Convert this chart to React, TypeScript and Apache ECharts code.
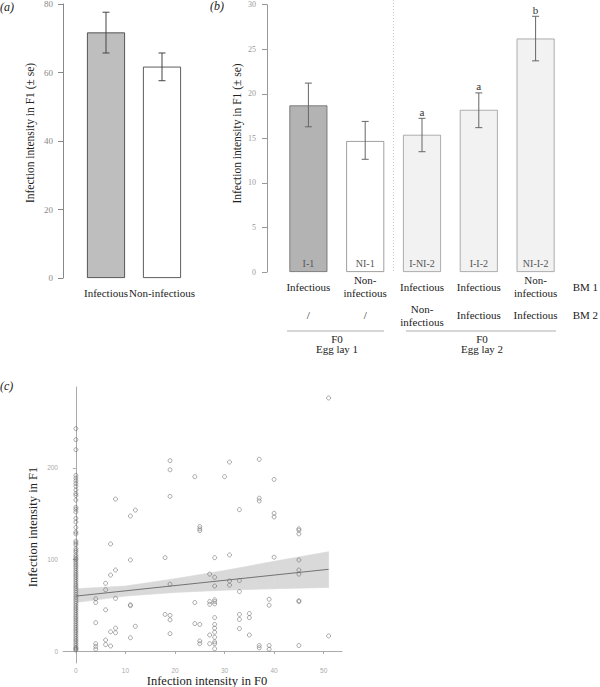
import React, { useEffect, useRef } from "react";
import * as echarts from "echarts";

// ---------- Panel (a) ----------
const catsA = ["Infectious", "Non-infectious"];
const meanA = [71.7, 61.7];
const seLowA = [65.7, 57.6];
const seHighA = [77.6, 65.7];

// ---------- Panel (b) ----------
const codesB = ["I-1", "NI-1", "I-NI-2", "I-I-2", "NI-I-2"];
const bm1B = ["Infectious", "Non-\ninfectious", "Infectious", "Infectious", "Non-\ninfectious"];
const bm2B = ["/", "/", "Non-\ninfectious", "Infectious", "Infectious"];
const meanB = [18.7, 14.7, 15.4, 18.2, 26.2];
const seLowB = [16.3, 12.65, 13.5, 16.2, 23.7];
const seHighB = [21.2, 16.9, 17.25, 20.1, 28.7];
const lettersB = ["", "", "a", "a", "b"];

// ---------- Panel (c) ----------
const ticksX = [0, 10, 20, 30, 40, 50];
const ticksY = [0, 100, 200];

const zeroColumnF1 = [
  243, 231, 220, 192, 189, 186, 183, 180, 176, 172, 170, 165, 157, 155, 152, 145, 141, 135,
  130, 128, 120, 118, 116, 112, 110, 108, 105, 103, 101, 100, 98, 96, 94, 92, 90, 88, 86, 84,
  82, 80, 78, 76, 74, 72, 70, 68, 66, 64, 62, 60, 58, 56, 54, 52, 50, 48, 46, 44, 42, 40, 38,
  36, 34, 32, 30, 28, 26, 24, 22, 20, 18, 16, 14, 12, 10, 8, 6, 4, 3, 2, 1,
];

const otherF0 = [
  4, 4, 4, 4, 4, 4,
  6, 6, 6, 6, 6,
  7, 7, 7, 7,
  8, 8, 8, 8, 8,
  11, 11, 11, 11, 11,
  12, 12,
  18, 18,
  19, 19, 19, 19, 19, 19, 19,
  24, 24, 24,
  25, 25, 25, 25, 25, 25,
  27, 27, 27, 27, 27,
  28, 28, 28, 28, 28, 28, 28, 28, 28, 28, 28, 28, 28, 28,
  30,
  31, 31, 31, 31,
  33, 33, 33, 33, 33, 33,
  35, 35, 35,
  37, 37, 37, 37, 37,
  39, 39, 39, 39,
  40, 40, 40, 40,
  45, 45, 45, 45, 45, 45, 45, 45, 45,
  51, 51,
];
const otherF1 = [
  57, 53, 31, 8, 5, 2,
  74, 67, 45, 12, 7,
  117, 83, 21, 5.5,
  166, 88.5, 57.5, 25, 20,
  147.5, 99.5, 50.5, 49.5, 14.5,
  154, 27,
  102, 40,
  208, 198, 169, 73, 39, 34, 19,
  190.5, 53, 30,
  136, 133.5, 131.5, 29, 11, 8,
  84, 54, 51, 17.5, 8,
  102, 80.5, 71, 56, 54, 51.5, 36.5, 29, 25, 20.5, 15, 10, 8, 2.5,
  190.5,
  206.5, 105, 76.5, 72,
  154.5, 77, 65, 40, 34.5, 24.5,
  41, 36.5, 17.5,
  209.5, 167, 164, 6, 3.5,
  56.5, 50, 6, 2,
  187.5, 150.5, 146.5, 102.5,
  133.5, 132, 128, 99.5, 88.5, 84, 55, 54, 6,
  276.5, 16.5,
];

const fitX = [0, 51];
const fitY = [60, 89.3];
const bandX = [0, 10, 20, 30, 40, 51];
const bandLower = [53, 60, 64, 66.5, 68, 69.5];
const bandUpper = [68, 71, 79, 88, 98, 108.5];

const SERIF = "Liberation Serif";
const SANS = "Liberation Sans";

function errRender(color: string, capHalf: number, letters?: string[]) {
  return (params: any, api: any) => {
    const i = api.value(0);
    const lo = api.coord([i, api.value(1)]);
    const hi = api.coord([i, api.value(2)]);
    const style = { stroke: color, lineWidth: 1 };
    const children: any[] = [
      { type: "line", shape: { x1: lo[0], y1: lo[1], x2: hi[0], y2: hi[1] }, style },
      { type: "line", shape: { x1: hi[0] - capHalf, y1: hi[1], x2: hi[0] + capHalf, y2: hi[1] }, style },
      { type: "line", shape: { x1: lo[0] - capHalf, y1: lo[1], x2: lo[0] + capHalf, y2: lo[1] }, style },
    ];
    if (letters && letters[params.dataIndex]) {
      children.push({
        type: "text",
        style: {
          text: letters[params.dataIndex],
          x: hi[0],
          y: hi[1] - 1,
          align: "center",
          verticalAlign: "bottom",
          fill: "#333",
          fontSize: 11,
          fontFamily: SERIF,
        },
      });
    }
    return { type: "group", children };
  };
}

function bandRender(params: any, api: any) {
  const a0 = api.coord([api.value(0), api.value(1)]);
  const a1 = api.coord([api.value(3), api.value(4)]);
  const b1 = api.coord([api.value(3), api.value(5)]);
  const b0 = api.coord([api.value(0), api.value(2)]);
  return {
    type: "polygon",
    shape: { points: [a0, a1, b1, b0] },
    style: { fill: "#d9d9d9", stroke: "#d9d9d9", lineWidth: 0.6 },
  };
}

const txt = (text: string, x: number, y: number, size: number, extra: any = {}) => ({
  type: "text",
  x,
  y,
  ...(extra.rotation !== undefined ? { rotation: extra.rotation } : {}),
  style: {
    text,
    fontSize: size,
    fontFamily: SERIF,
    fontStyle: extra.italic ? "italic" : "normal",
    align: extra.align || "center",
    verticalAlign: "middle",
    fill: "#222",
  },
});

export default function App() {
  const ref = useRef<HTMLDivElement>(null);

  useEffect(() => {
    if (!ref.current) return;
    const chart = echarts.init(ref.current, undefined, { renderer: "svg" });

    const scatterData: number[][] = [];
    zeroColumnF1.forEach((y) => scatterData.push([0, y]));
    otherF0.forEach((x, i) => scatterData.push([x, otherF1[i]]));

    const bandData = bandX.slice(0, -1).map((x, i) => [
      x, bandLower[i], bandUpper[i], bandX[i + 1], bandLower[i + 1], bandUpper[i + 1],
    ]);

    const fillA = ["#bebebe", "#ffffff"];
    const fillB = ["#b3b3b3", "#ffffff", "#f2f2f2", "#f2f2f2", "#f2f2f2"];
    const borderB = ["#666", "#888", "#999", "#999", "#999"];

    const yAxisCommon = (color: string, fontSize: number, margin: number) => ({
      axisLine: { show: true, lineStyle: { color, width: 1 } },
      axisTick: { show: true, length: 5, lineStyle: { color } },
      axisLabel: { color, fontSize, fontFamily: SERIF, margin },
      splitLine: { show: false },
    });

    const catLabel = (margin: number) => ({
      color: "#222", fontSize: 11, fontFamily: SERIF, margin,
      verticalAlign: "middle", lineHeight: 13, interval: 0,
    });

    const option: any = {
      animation: false,
      backgroundColor: "#fff",
      textStyle: { fontFamily: SERIF },
      grid: [
        { left: 78, top: 4, width: 112, height: 274, outerBoundsMode: "none" },
        { left: 280, top: 4.7, width: 284, height: 267.3, outerBoundsMode: "none" },
        { left: 63, top: 387, width: 279, height: 276, outerBoundsMode: "none" },
      ],
      xAxis: [
        {
          gridIndex: 0,
          type: "category",
          data: catsA,
          axisLine: { show: false },
          axisTick: { show: false },
          axisLabel: catLabel(15),
        },
        {
          gridIndex: 1,
          type: "category",
          data: bm1B,
          axisLine: { show: false },
          axisTick: { show: false },
          axisLabel: catLabel(14.5),
        },
        {
          gridIndex: 1,
          type: "category",
          data: bm2B,
          position: "bottom",
          offset: 28.5,
          axisLine: { show: false },
          axisTick: { show: false },
          axisLabel: catLabel(14.5),
        },
        {
          gridIndex: 2,
          type: "value",
          min: -2.6,
          max: 53.7,
          axisLine: { show: true, lineStyle: { color: "#aaa", width: 1 } },
          axisTick: { show: true, length: 3, customValues: ticksX, lineStyle: { color: "#aaa" } },
          axisLabel: { customValues: ticksX, color: "#aaa", fontSize: 6.5, fontFamily: SANS, margin: 4 },
          splitLine: { show: false },
        },
      ],
      yAxis: [
        {
          gridIndex: 0, type: "value", min: 0, max: 80, interval: 20, offset: 15,
          ...yAxisCommon("#888", 9, 10),
        },
        {
          gridIndex: 1, type: "value", min: 0, max: 30, interval: 5, offset: 13,
          ...yAxisCommon("#999", 8, 11),
        },
        {
          gridIndex: 2,
          type: "value",
          min: -13.1,
          max: 288.5,
          axisLine: { show: true, lineStyle: { color: "#aaa", width: 1 } },
          axisTick: { show: true, length: 3, customValues: ticksY, lineStyle: { color: "#aaa" } },
          axisLabel: { customValues: ticksY, color: "#aaa", fontSize: 6.5, fontFamily: SANS, margin: 5 },
          splitLine: { show: false },
        },
      ],
      series: [
        {
          type: "bar",
          xAxisIndex: 0,
          yAxisIndex: 0,
          barWidth: 38,
          data: meanA.map((v, i) => ({
            value: v,
            itemStyle: { color: fillA[i], borderColor: "#333", borderWidth: 0.8 },
          })),
        },
        {
          type: "custom",
          xAxisIndex: 0,
          yAxisIndex: 0,
          z: 5,
          encode: { x: 0, y: [1, 2] },
          data: catsA.map((_, i) => [i, seLowA[i], seHighA[i]]),
          renderItem: errRender("#444", 3.5),
        },
        {
          type: "bar",
          xAxisIndex: 1,
          yAxisIndex: 1,
          barWidth: 38,
          data: meanB.map((v, i) => ({
            value: v,
            itemStyle: { color: fillB[i], borderColor: borderB[i], borderWidth: 0.8 },
          })),
          label: {
            show: true,
            position: "insideBottom",
            distance: 4,
            formatter: (p: any) => codesB[p.dataIndex],
            color: "#555",
            fontSize: 10,
            fontFamily: SERIF,
          },
        },
        {
          type: "custom",
          xAxisIndex: 1,
          yAxisIndex: 1,
          z: 5,
          encode: { x: 0, y: [1, 2] },
          data: codesB.map((_, i) => [i, seLowB[i], seHighB[i]]),
          renderItem: errRender("#666", 3.5, lettersB),
        },
        {
          type: "custom",
          xAxisIndex: 3,
          yAxisIndex: 2,
          z: 1,
          encode: { x: [0, 3], y: [1, 2, 4, 5] },
          data: bandData,
          renderItem: bandRender,
        },
        {
          type: "scatter",
          xAxisIndex: 3,
          yAxisIndex: 2,
          symbol: "circle",
          symbolSize: 4,
          itemStyle: { color: "rgba(0,0,0,0)", borderColor: "#666", borderWidth: 0.7 },
          data: scatterData,
          z: 3,
        },
        {
          type: "line",
          xAxisIndex: 3,
          yAxisIndex: 2,
          symbol: "none",
          lineStyle: { color: "#666", width: 0.9 },
          data: fitX.map((x, i) => [x, fitY[i]]),
          z: 4,
        },
      ],
      graphic: [
        txt("(a)", 0, 7, 12, { italic: true, align: "left" }),
        txt("(b)", 210, 6, 12, { italic: true, align: "left" }),
        txt("(c)", 0, 386, 12, { italic: true, align: "left" }),
        txt("Infection intensity in F1 (± se)", 30, 133, 11.5, { rotation: Math.PI / 2 }),
        txt("Infection intensity in F1 (± se)", 237, 133.5, 11.5, { rotation: Math.PI / 2 }),
        txt("Infection intensity in F1", 33, 527, 12.5, { rotation: Math.PI / 2 }),
        txt("Infection intensity in F0", 207, 681, 12.5),
        {
          type: "line", shape: { x1: 393.5, y1: 0, x2: 393.5, y2: 272 },
          style: { stroke: "#bbb", lineWidth: 0.8, lineDash: [1, 2] },
        },
        { type: "line", shape: { x1: 287, y1: 331, x2: 384, y2: 331 }, style: { stroke: "#999", lineWidth: 0.8 } },
        { type: "line", shape: { x1: 406, y1: 331, x2: 556, y2: 331 }, style: { stroke: "#999", lineWidth: 0.8 } },
        txt("F0", 337, 338.5, 11),
        txt("Egg lay 1", 337, 349, 11),
        txt("F0", 482, 338.5, 11),
        txt("Egg lay 2", 482, 349, 11),
        txt("BM 1", 598, 286.5, 11, { align: "right" }),
        txt("BM 2", 598, 315, 11, { align: "right" }),
      ],
    };

    chart.setOption(option);
    return () => chart.dispose();
  }, []);

  return (
    <div
      ref={ref}
      style={{ position: "absolute", left: 0, top: 0, width: 600, height: 687, background: "#fff" }}
    />
  );
}
